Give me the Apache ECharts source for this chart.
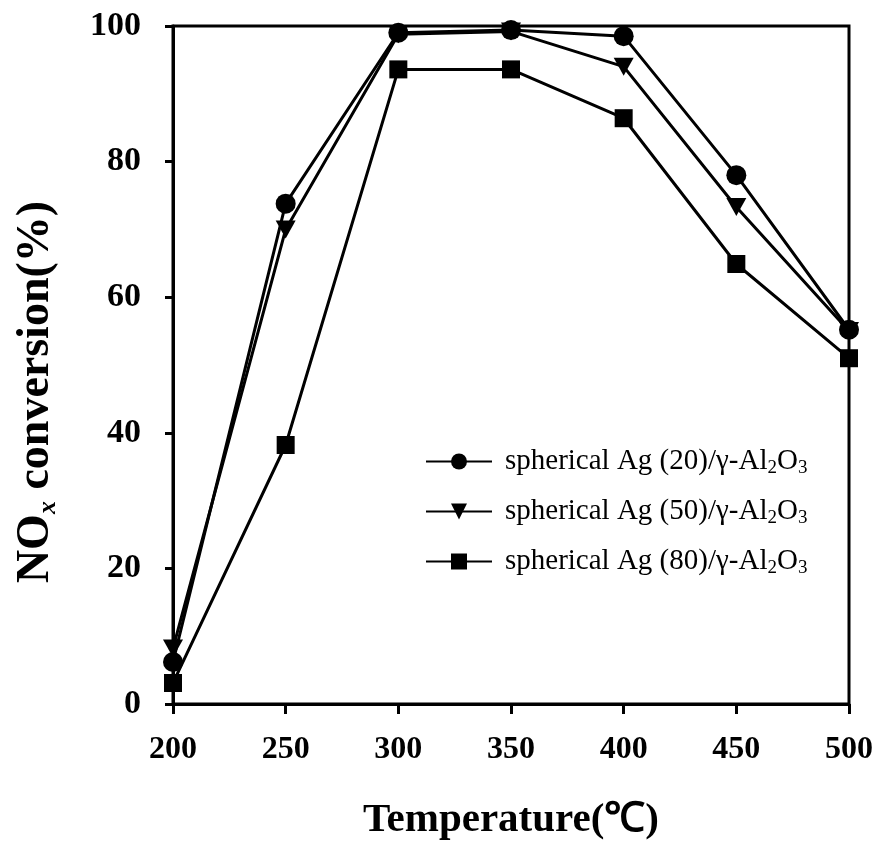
<!DOCTYPE html>
<html><head><meta charset="utf-8">
<script src="https://cdn.jsdelivr.net/npm/echarts@6/dist/echarts.min.js"></script>
<style>html,body{margin:0;padding:0;background:#fff}#c{width:884px;height:848px}</style>
</head><body><div id="c"></div>
<script>
const temperatures = [200, 250, 300, 350, 400, 450, 500];
const ag20 = [6.2, 73.8, 99.0, 99.4, 98.5, 78.0, 55.2];
const ag50 = [8.2, 70.0, 98.8, 99.2, 94.0, 73.3, 55.0];
const ag80 = [3.1, 38.2, 93.6, 93.6, 86.4, 64.9, 51.0];
const seriesNames = ['spherical Ag (20)/γ-Al2O3', 'spherical Ag (50)/γ-Al2O3', 'spherical Ag (80)/γ-Al2O3'];
const yTicks = [0, 20, 40, 60, 80, 100];

const font = '"Liberation Serif", "Times New Roman", serif';
const chart = echarts.init(document.getElementById('c'));
function pts(vals){ return temperatures.map((t,i)=>[t, vals[i]]); }
const common = { type:'line', lineStyle:{color:'#000', width:3}, itemStyle:{color:'#000'}, emphasis:{disabled:true} };
chart.setOption({
  animation:false,
  grid:{left:173, right:35, top:26, bottom:144, show:true, borderColor:'#000', borderWidth:3},
  legend:{
    left:420, top:442, orient:'vertical', itemGap:19, itemWidth:66, itemHeight:20,
    data: seriesNames,
    formatter: function(n){
      const base = n.replace('Al2O3','');
      return '{a|' + base + 'Al}{s|2}{a|O}{s|3}';
    },
    textStyle:{ color:'#000', fontFamily:font, padding:[0,0,0,8],
      rich:{ a:{fontSize:29, fontFamily:font, color:'#000'}, s:{fontSize:19, fontFamily:font, color:'#000', verticalAlign:'bottom', padding:[14,0,0,0]} } }
  },
  xAxis:{
    type:'value', min:200, max:500, interval:50,
    name:'Temperature(℃)', nameLocation:'middle', nameGap:96,
    nameTextStyle:{fontFamily:font, fontWeight:'bold', fontSize:41, color:'#000'},
    axisLine:{show:true, lineStyle:{color:'#000', width:3}},
    axisTick:{show:true, length:10, lineStyle:{color:'#000', width:3}},
    axisLabel:{fontFamily:font, fontWeight:'bold', fontSize:32, color:'#000', margin:30},
    splitLine:{show:false}
  },
  yAxis:{
    type:'value', min:0, max:100, interval:20,
    name:'NO{sub|x} conversion(%)', nameLocation:'middle', nameGap:112,
    nameTextStyle:{fontFamily:font, fontWeight:'bold', fontSize:46, color:'#000', padding:[0,54,0,0],
      rich:{sub:{fontFamily:font, fontWeight:'bold', fontStyle:'italic', fontSize:26, color:'#000', verticalAlign:'bottom', padding:[24,0,0,0]}}},
    axisLine:{show:true, lineStyle:{color:'#000', width:3}},
    axisTick:{show:true, length:8, lineStyle:{color:'#000', width:3}},
    axisLabel:{fontFamily:font, fontWeight:'bold', fontSize:34, color:'#000', margin:32,
      formatter:function(v){ return yTicks.indexOf(v) >= 0 ? String(v) : ''; }},
    splitLine:{show:false}
  },
  series:[
    Object.assign({}, common, {name:seriesNames[2], data:pts(ag80), symbol:'rect', symbolSize:18, z:2}),
    Object.assign({}, common, {name:seriesNames[1], data:pts(ag50), symbol:'triangle', symbolRotate:180, symbolSize:[20,18], z:3}),
    Object.assign({}, common, {name:seriesNames[0], data:pts(ag20), symbol:'circle', symbolSize:20, z:4})
  ]
});
</script></body></html>
